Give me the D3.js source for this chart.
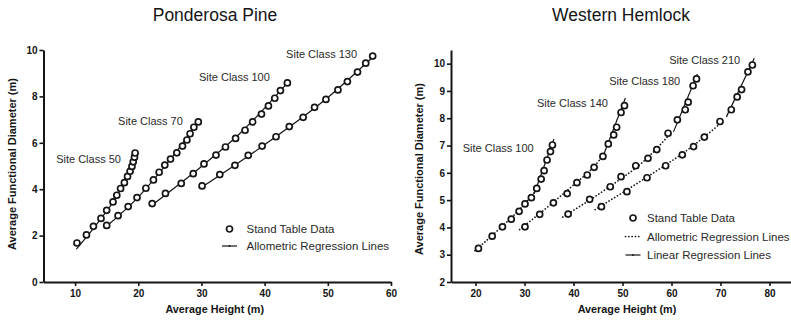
<!DOCTYPE html>
<html>
<head>
<meta charset="utf-8">
<script src="https://cdn.jsdelivr.net/npm/d3@7"></script>
<style>
  body { margin: 0; background: #fff; }
  svg { display: block; font-family: "Liberation Sans", Arial, sans-serif; }
</style>
</head>
<body>
<div id="chart"></div>
<script>
// Ponderosa Pine: stand table data [height (m), functional diameter (m)]
const pp50 = [[10.3,1.68],[11.8,2.03],[12.9,2.40],[14.1,2.74],[15.0,3.09],[16.0,3.45],[16.6,3.74],[17.2,4.03],[17.8,4.28],[18.3,4.55],[18.7,4.77],[19.0,4.98],[19.2,5.18],[19.4,5.38],[19.5,5.56]];
const pp70 = [[15.0,2.44],[16.8,2.86],[18.4,3.25],[19.8,3.64],[21.2,4.04],[22.4,4.40],[23.3,4.73],[24.2,5.04],[25.1,5.30],[26.1,5.57],[27.0,5.86],[27.7,6.12],[28.2,6.39],[28.8,6.67],[29.5,6.90]];
const pp100 = [[22.2,3.38],[24.3,3.82],[26.8,4.25],[28.7,4.67],[30.4,5.09],[32.3,5.47],[33.8,5.82],[35.4,6.19],[36.9,6.54],[38.1,6.90],[39.5,7.24],[40.6,7.59],[41.6,7.92],[42.5,8.25],[43.6,8.58]];
const pp130 = [[30.1,4.14],[32.9,4.63],[35.3,5.03],[37.4,5.46],[39.6,5.86],[41.8,6.26],[43.9,6.70],[46.1,7.10],[47.9,7.53],[49.7,7.87],[51.6,8.28],[53.1,8.64],[54.7,9.05],[56.0,9.43],[57.1,9.74]];
// Ponderosa Pine: allometric regression lines
const pp50Fit = [[10.2,1.42],[14.0,2.70],[17.2,4.00],[19.6,5.62]];
const pp70Fit = [[14.8,2.36],[20.0,3.66],[25.0,5.26],[29.7,6.98]];
const pp100Fit = [[22.0,3.28],[30.0,4.98],[36.0,6.38],[43.8,8.64]];
const pp130Fit = [[29.9,4.06],[40.0,5.92],[50.0,7.95],[57.3,9.74]];
const ppLabels = ["Site Class 50", "Site Class 70", "Site Class 100", "Site Class 130"];

// Western Hemlock: stand table data
const wh100 = [[20.6,3.23],[23.4,3.68],[25.5,4.02],[27.3,4.30],[28.9,4.59],[30.1,4.86],[31.4,5.09],[32.5,5.43],[33.4,5.77],[34.0,6.08],[34.6,6.47],[35.3,6.78],[35.7,7.02]];
const wh140 = [[30.1,4.02],[33.1,4.48],[35.9,4.90],[38.7,5.24],[40.7,5.64],[42.8,5.92],[44.2,6.20],[46.0,6.60],[47.1,7.06],[48.2,7.39],[48.8,7.67],[49.7,8.21],[50.4,8.46]];
const wh180 = [[38.9,4.49],[43.3,5.03],[47.5,5.49],[49.7,5.86],[52.7,6.26],[55.2,6.53],[57.0,6.85],[59.3,7.45],[61.2,7.94],[62.8,8.31],[63.4,8.59],[64.4,9.19],[65.1,9.44]];
const wh210 = [[45.7,4.76],[50.9,5.31],[55.0,5.82],[58.8,6.26],[62.2,6.66],[64.5,6.96],[66.7,7.31],[69.9,7.88],[72.2,8.31],[73.4,8.78],[74.3,9.05],[75.6,9.70],[76.5,9.95]];
// Western Hemlock: allometric (dotted) and linear (solid) regression lines
const wh100Allo = [[19.9,3.15],[25.2,4.00],[29.0,4.66],[32.4,5.36]];
const wh140Allo = [[29.0,3.92],[35.6,4.88],[40.3,5.60],[43.7,6.14],[46.2,6.66]];
const wh180Allo = [[37.8,4.38],[47.0,5.45],[54.8,6.50],[59.7,7.42]];
const wh210Allo = [[44.4,4.65],[54.6,5.80],[64.1,6.95],[69.8,7.78]];
const wh100Lin = [[32.0,5.24],[36.0,7.24]];
const wh140Lin = [[45.8,6.50],[50.6,8.74]];
const wh180Lin = [[60.4,7.50],[65.3,9.62]];
const wh210Lin = [[71.2,8.05],[76.9,10.20]];
const whLabels = ["Site Class 100", "Site Class 140", "Site Class 180", "Site Class 210"];

const ppXTicks = [10, 20, 30, 40, 50, 60];
const ppYTicks = [0, 2, 4, 6, 8, 10];
const whXTicks = [20, 30, 40, 50, 60, 70, 80];
const whYTicks = [2, 3, 4, 5, 6, 7, 8, 9, 10];

const W = 791, H = 321;
const ink = "#151515";

const svg = d3.select("#chart").append("svg")
  .attr("width", W).attr("height", H);

function drawPanel(p) {
  const x = d3.scaleLinear().domain(p.xDomain).range(p.xRange);
  const y = d3.scaleLinear().domain(p.yDomain).range(p.yRange);
  const g = svg.append("g");

  g.append("text")
    .attr("x", p.titleX).attr("y", 21)
    .attr("text-anchor", "middle")
    .attr("font-size", 17.5).attr("fill", ink)
    .text(p.title);

  const xAx = g.append("g")
    .attr("transform", `translate(0,${p.yRange[0]})`)
    .call(d3.axisBottom(x).tickValues(p.xTicks).tickSize(4).tickSizeOuter(0).tickPadding(4));
  const yAx = g.append("g")
    .attr("transform", `translate(${p.xRange[0]},0)`)
    .call(d3.axisLeft(y).tickValues(p.yTicks).tickSize(4).tickSizeOuter(0).tickPadding(2));

  [xAx, yAx].forEach(a => {
    a.attr("font-family", "Liberation Sans, Arial, sans-serif")
      .attr("font-size", 10).attr("font-weight", "bold");
    a.select(".domain").attr("stroke", ink).attr("stroke-width", 2);
    a.selectAll(".tick line").attr("stroke", ink).attr("stroke-width", 1.6);
    a.selectAll(".tick text").attr("fill", ink);
  });

  g.append("text")
    .attr("x", (p.xRange[0] + p.xTitleEnd) / 2).attr("y", 313)
    .attr("text-anchor", "middle")
    .attr("font-size", 10.8).attr("font-weight", "bold").attr("fill", ink)
    .text("Average Height (m)");

  g.append("text")
    .attr("transform", `translate(${p.yTitleX},${p.yTitleY})rotate(-90)`)
    .attr("text-anchor", "middle")
    .attr("font-size", 11).attr("font-weight", "bold").attr("fill", ink)
    .text("Average Functional Diameter (m)");

  const line = d3.line().x(d => x(d[0])).y(d => y(d[1])).curve(d3.curveMonotoneX);

  p.series.forEach(s => {
    g.append("path").datum(s.allo)
      .attr("d", line).attr("fill", "none")
      .attr("stroke", ink)
      .attr("stroke-width", p.dotted ? 1.7 : 1.2)
      .attr("stroke-dasharray", p.dotted ? "0.1,3.2" : null)
      .attr("stroke-linecap", p.dotted ? "round" : "butt");
    if (s.lin) {
      g.append("path").datum(s.lin)
        .attr("d", line).attr("fill", "none")
        .attr("stroke", ink).attr("stroke-width", 1.2);
    }
    g.selectAll(null).data(s.points).enter().append("circle")
      .attr("cx", d => x(d[0])).attr("cy", d => y(d[1]))
      .attr("r", 3)
      .attr("fill", "#fff").attr("stroke", ink).attr("stroke-width", 1.7);
    g.append("text")
      .attr("x", x(s.labelAt[0])).attr("y", y(s.labelAt[1]))
      .attr("font-size", 11).attr("fill", "#2a2a2a")
      .text(s.label);
  });

  // legend
  const lg = g.append("g").attr("transform", `translate(${p.legendX},${p.legendY})`);
  p.legend.forEach((item, i) => {
    const yy = i * p.legendGap;
    if (item.type === "point") {
      lg.append("circle").attr("cx", 7.5).attr("cy", yy).attr("r", 3)
        .attr("fill", "#fff").attr("stroke", ink).attr("stroke-width", 1.7);
    } else {
      lg.append("line").attr("x1", 0).attr("x2", 15).attr("y1", yy).attr("y2", yy)
        .attr("stroke", ink)
        .attr("stroke-width", item.type === "dotted" ? 1.7 : 1.2)
        .attr("stroke-dasharray", item.type === "dotted" ? "0.1,3.2" : null)
        .attr("stroke-linecap", item.type === "dotted" ? "round" : "butt");
      if (item.type === "solid") {
        lg.append("circle").attr("cx", 7.5).attr("cy", yy).attr("r", 0.9).attr("fill", ink);
      }
    }
    lg.append("text").attr("x", p.legendTextDx).attr("y", yy + 4)
      .attr("font-size", 11.5).attr("fill", "#2a2a2a")
      .text(item.text);
  });
}

drawPanel({
  title: "Ponderosa Pine", titleX: 215,
  xDomain: [5, 60], xRange: [43.5, 391],
  yDomain: [0, 10], yRange: [282, 50],
  xTicks: ppXTicks, yTicks: ppYTicks,
  xTitleEnd: 386, yTitleX: 15.5, yTitleY: 164,
  dotted: false,
  series: [
    { points: pp50, allo: pp50Fit, label: ppLabels[0], labelAt: [7.0, 5.13] },
    { points: pp70, allo: pp70Fit, label: ppLabels[1], labelAt: [16.8, 6.77] },
    { points: pp100, allo: pp100Fit, label: ppLabels[2], labelAt: [29.6, 8.68] },
    { points: pp130, allo: pp130Fit, label: ppLabels[3], labelAt: [43.4, 9.66] }
  ],
  legendX: 222, legendY: 229, legendGap: 17, legendTextDx: 24.5,
  legend: [
    { type: "point", text: "Stand Table Data" },
    { type: "solid", text: "Allometric Regression Lines" }
  ]
});

drawPanel({
  title: "Western Hemlock", titleX: 621,
  xDomain: [15, 85], xRange: [451, 794],
  yDomain: [2, 10.5], yRange: [282, 50],
  xTicks: whXTicks, yTicks: whYTicks,
  xTitleEnd: 803, yTitleX: 423, yTitleY: 169,
  dotted: true,
  series: [
    { points: wh100, allo: wh100Allo, lin: wh100Lin, label: whLabels[0], labelAt: [17.4, 6.77] },
    { points: wh140, allo: wh140Allo, lin: wh140Lin, label: whLabels[1], labelAt: [32.55, 8.42] },
    { points: wh180, allo: wh180Allo, lin: wh180Lin, label: whLabels[2], labelAt: [47.3, 9.22] },
    { points: wh210, allo: wh210Allo, lin: wh210Lin, label: whLabels[3], labelAt: [59.55, 9.97] }
  ],
  legendX: 625.5, legendY: 218, legendGap: 18.5, legendTextDx: 21.5,
  legend: [
    { type: "point", text: "Stand Table Data" },
    { type: "dotted", text: "Allometric Regression Lines" },
    { type: "solid", text: "Linear Regression Lines" }
  ]
});
</script>
</body>
</html>
